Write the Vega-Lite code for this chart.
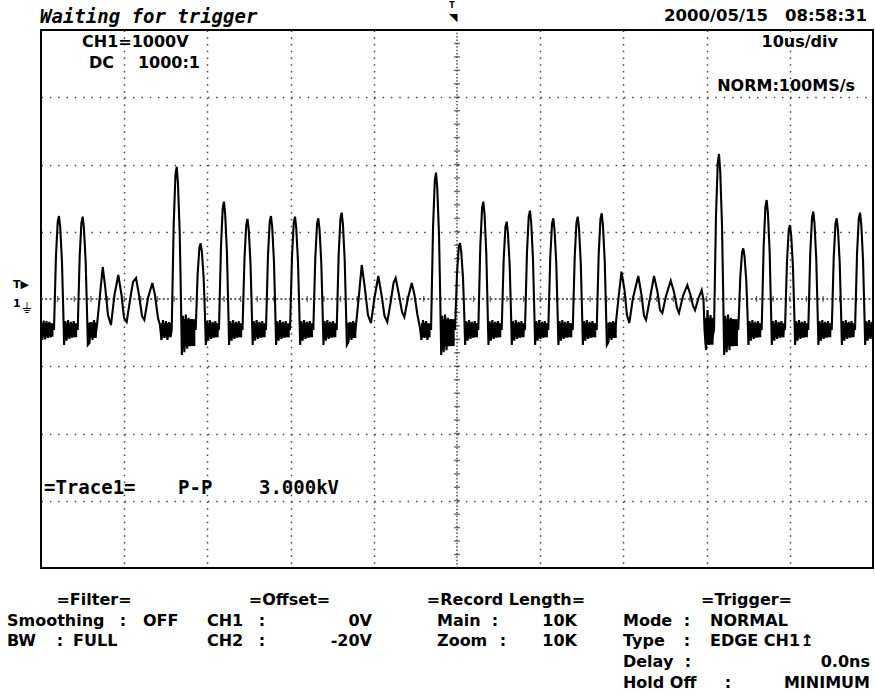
{
"$schema":"https://vega.github.io/schema/vega-lite/v6.json",
"width":832,"height":538,
"autosize":{"type":"none"},
"padding":{"left":41,"top":30,"right":2,"bottom":126},
"background":"white",
"config":{"view":{"stroke":"black","strokeWidth":2},"axis":{"labels":false,"ticks":false,"domain":false,"grid":false}},
"datasets":{
"wave":[
{"t":-50,"v":-400},{"t":-49.85,"v":-610},{"t":-49.68,"v":-320},{"t":-49.51,"v":-600},{"t":-49.34,"v":-330},{"t":-49.17,"v":-580},{"t":-49.0,"v":-340},{"t":-48.83,"v":-570},{"t":-48.66,"v":-380},
{"t":-48.44,"v":-461},{"t":-48.2,"v":641},{"t":-47.99,"v":1149},{"t":-47.84,"v":1234},{"t":-47.69,"v":1065},{"t":-47.48,"v":556},{"t":-47.34,"v":-88},{"t":-47.22,"v":-684},
{"t":-47.09,"v":-330},{"t":-46.92,"v":-620},{"t":-46.75,"v":-315},{"t":-46.58,"v":-595},{"t":-46.41,"v":-340},{"t":-46.24,"v":-575},{"t":-46.07,"v":-330},{"t":-45.9,"v":-560},{"t":-45.73,"v":-380},
{"t":-45.59,"v":-461},{"t":-45.35,"v":634},{"t":-45.14,"v":1140},{"t":-44.99,"v":1224},{"t":-44.84,"v":1056},{"t":-44.63,"v":550},{"t":-44.49,"v":-90},{"t":-44.37,"v":-684},
{"t":-44.17,"v":-654},{"t":-43.99,"v":-342},{"t":-43.81,"v":-610},{"t":-43.63,"v":-312},{"t":-43.45,"v":-550},{"t":-43.27,"v":-387},{"t":-42.97,"v":-15},{"t":-42.58,"v":476},{"t":-42.31,"v":208},{"t":-41.95,"v":-238},{"t":-41.59,"v":-387},{"t":-41.17,"v":59},{"t":-40.71,"v":357},{"t":-40.32,"v":59},{"t":-40.02,"v":-283},{"t":-39.7,"v":-342},{"t":-39.3,"v":-15},{"t":-38.94,"v":253},{"t":-38.58,"v":312},{"t":-38.22,"v":59},{"t":-37.86,"v":-253},{"t":-37.58,"v":-312},{"t":-37.14,"v":15},{"t":-36.62,"v":238},{"t":-36.3,"v":59},{"t":-35.94,"v":-283},{"t":-35.7,"v":-387},{"t":-35.52,"v":-610},{"t":-35.34,"v":-312},{"t":-35.16,"v":-580},{"t":-34.98,"v":-327},{"t":-34.8,"v":-610},{"t":-34.62,"v":-342},{"t":-34.44,"v":-565},
{"t":-34.29,"v":-461},{"t":-34.05,"v":1117},{"t":-33.84,"v":1846},{"t":-33.69,"v":1967},{"t":-33.54,"v":1724},{"t":-33.33,"v":996},{"t":-33.19,"v":73},{"t":-33.07,"v":-833},
{"t":-32.94,"v":-250},{"t":-32.77,"v":-790},{"t":-32.6,"v":-230},{"t":-32.43,"v":-740},{"t":-32.26,"v":-280},{"t":-32.09,"v":-700},{"t":-31.92,"v":-300},{"t":-31.75,"v":-650},{"t":-31.58,"v":-380},
{"t":-31.41,"v":-461},{"t":-31.17,"v":377},{"t":-30.96,"v":764},{"t":-30.81,"v":828},{"t":-30.66,"v":699},{"t":-30.45,"v":312},{"t":-30.31,"v":-177},{"t":-30.19,"v":-684},
{"t":-30.06,"v":-330},{"t":-29.89,"v":-620},{"t":-29.72,"v":-315},{"t":-29.55,"v":-595},{"t":-29.38,"v":-340},{"t":-29.21,"v":-575},{"t":-29.04,"v":-330},{"t":-28.87,"v":-560},{"t":-28.7,"v":-380},
{"t":-28.61,"v":-461},{"t":-28.37,"v":779},{"t":-28.16,"v":1352},{"t":-28.01,"v":1447},{"t":-27.86,"v":1256},{"t":-27.65,"v":684},{"t":-27.51,"v":-41},{"t":-27.39,"v":-684},
{"t":-27.26,"v":-330},{"t":-27.09,"v":-620},{"t":-26.92,"v":-315},{"t":-26.75,"v":-595},{"t":-26.58,"v":-340},{"t":-26.41,"v":-575},{"t":-26.24,"v":-330},{"t":-26.07,"v":-560},{"t":-25.9,"v":-380},
{"t":-25.78,"v":-461},{"t":-25.54,"v":612},{"t":-25.33,"v":1107},{"t":-25.18,"v":1190},{"t":-25.03,"v":1025},{"t":-24.82,"v":530},{"t":-24.68,"v":-98},{"t":-24.56,"v":-684},
{"t":-24.43,"v":-330},{"t":-24.26,"v":-620},{"t":-24.09,"v":-315},{"t":-23.92,"v":-595},{"t":-23.75,"v":-340},{"t":-23.58,"v":-575},{"t":-23.41,"v":-330},{"t":-23.24,"v":-560},{"t":-23.07,"v":-380},
{"t":-22.96,"v":-461},{"t":-22.72,"v":641},{"t":-22.51,"v":1149},{"t":-22.36,"v":1234},{"t":-22.21,"v":1065},{"t":-22.0,"v":556},{"t":-21.86,"v":-88},{"t":-21.74,"v":-684},
{"t":-21.61,"v":-330},{"t":-21.44,"v":-620},{"t":-21.27,"v":-315},{"t":-21.1,"v":-595},{"t":-20.93,"v":-340},{"t":-20.76,"v":-575},{"t":-20.59,"v":-330},{"t":-20.42,"v":-560},{"t":-20.25,"v":-380},
{"t":-20.07,"v":-461},{"t":-19.83,"v":634},{"t":-19.62,"v":1140},{"t":-19.47,"v":1224},{"t":-19.32,"v":1056},{"t":-19.11,"v":550},{"t":-18.97,"v":-90},{"t":-18.85,"v":-684},
{"t":-18.72,"v":-330},{"t":-18.55,"v":-620},{"t":-18.38,"v":-315},{"t":-18.21,"v":-595},{"t":-18.04,"v":-340},{"t":-17.87,"v":-575},{"t":-17.7,"v":-330},{"t":-17.53,"v":-560},{"t":-17.36,"v":-380},
{"t":-17.27,"v":-461},{"t":-17.03,"v":619},{"t":-16.82,"v":1117},{"t":-16.67,"v":1200},{"t":-16.52,"v":1034},{"t":-16.31,"v":536},{"t":-16.17,"v":-96},{"t":-16.05,"v":-684},
{"t":-15.92,"v":-330},{"t":-15.75,"v":-620},{"t":-15.58,"v":-315},{"t":-15.41,"v":-595},{"t":-15.24,"v":-340},{"t":-15.07,"v":-575},{"t":-14.9,"v":-330},{"t":-14.73,"v":-560},{"t":-14.56,"v":-380},
{"t":-14.46,"v":-461},{"t":-14.22,"v":673},{"t":-14.01,"v":1196},{"t":-13.86,"v":1283},{"t":-13.71,"v":1109},{"t":-13.5,"v":585},{"t":-13.36,"v":-77},{"t":-13.24,"v":-684},
{"t":-13.04,"v":-639},{"t":-12.86,"v":-342},{"t":-12.68,"v":-610},{"t":-12.5,"v":-327},{"t":-12.32,"v":-550},{"t":-12.14,"v":-387},{"t":-11.84,"v":-15},{"t":-11.45,"v":506},{"t":-11.12,"v":208},{"t":-10.7,"v":-238},{"t":-10.34,"v":-357},{"t":-9.92,"v":15},{"t":-9.46,"v":342},{"t":-9.07,"v":59},{"t":-8.71,"v":-253},{"t":-8.38,"v":-342},{"t":-7.93,"v":-15},{"t":-7.63,"v":238},{"t":-7.37,"v":312},{"t":-6.97,"v":59},{"t":-6.61,"v":-193},{"t":-6.33,"v":-268},{"t":-5.89,"v":15},{"t":-5.44,"v":238},{"t":-5.11,"v":59},{"t":-4.75,"v":-238},{"t":-4.45,"v":-431},{"t":-4.27,"v":-610},{"t":-4.09,"v":-312},{"t":-3.91,"v":-580},{"t":-3.73,"v":-327},{"t":-3.55,"v":-610},{"t":-3.37,"v":-372},
{"t":-3.12,"v":-461},{"t":-2.88,"v":1059},{"t":-2.67,"v":1761},{"t":-2.52,"v":1878},{"t":-2.37,"v":1644},{"t":-2.16,"v":942},{"t":-2.02,"v":54},{"t":-1.9,"v":-833},
{"t":-1.77,"v":-250},{"t":-1.6,"v":-790},{"t":-1.43,"v":-230},{"t":-1.26,"v":-760},{"t":-1.09,"v":-280},{"t":-0.92,"v":-700},{"t":-0.75,"v":-300},{"t":-0.58,"v":-650},{"t":-0.41,"v":-380},
{"t":-0.24,"v":-461},{"t":0.0,"v":380},{"t":0.21,"v":768},{"t":0.36,"v":833},{"t":0.51,"v":704},{"t":0.72,"v":315},{"t":0.86,"v":-176},{"t":0.98,"v":-684},
{"t":1.11,"v":-330},{"t":1.28,"v":-620},{"t":1.45,"v":-315},{"t":1.62,"v":-595},{"t":1.79,"v":-340},{"t":1.96,"v":-575},{"t":2.13,"v":-330},{"t":2.3,"v":-560},{"t":2.47,"v":-380},
{"t":2.56,"v":-461},{"t":2.8,"v":779},{"t":3.01,"v":1352},{"t":3.16,"v":1447},{"t":3.31,"v":1256},{"t":3.52,"v":684},{"t":3.66,"v":-41},{"t":3.78,"v":-684},
{"t":3.91,"v":-330},{"t":4.08,"v":-620},{"t":4.25,"v":-315},{"t":4.42,"v":-595},{"t":4.59,"v":-340},{"t":4.76,"v":-575},{"t":4.93,"v":-330},{"t":5.1,"v":-560},{"t":5.27,"v":-380},
{"t":5.37,"v":-461},{"t":5.61,"v":586},{"t":5.82,"v":1069},{"t":5.97,"v":1149},{"t":6.12,"v":988},{"t":6.33,"v":505},{"t":6.47,"v":-107},{"t":6.59,"v":-684},
{"t":6.72,"v":-330},{"t":6.89,"v":-620},{"t":7.06,"v":-315},{"t":7.23,"v":-595},{"t":7.4,"v":-340},{"t":7.57,"v":-575},{"t":7.74,"v":-330},{"t":7.91,"v":-560},{"t":8.08,"v":-380},
{"t":8.17,"v":-461},{"t":8.41,"v":692},{"t":8.62,"v":1224},{"t":8.77,"v":1313},{"t":8.92,"v":1136},{"t":9.13,"v":603},{"t":9.27,"v":-71},{"t":9.39,"v":-684},
{"t":9.52,"v":-330},{"t":9.69,"v":-620},{"t":9.86,"v":-315},{"t":10.03,"v":-595},{"t":10.2,"v":-340},{"t":10.37,"v":-575},{"t":10.54,"v":-330},{"t":10.71,"v":-560},{"t":10.88,"v":-380},
{"t":10.97,"v":-461},{"t":11.21,"v":619},{"t":11.42,"v":1117},{"t":11.57,"v":1200},{"t":11.72,"v":1034},{"t":11.93,"v":536},{"t":12.07,"v":-96},{"t":12.19,"v":-684},
{"t":12.32,"v":-330},{"t":12.49,"v":-620},{"t":12.66,"v":-315},{"t":12.83,"v":-595},{"t":13.0,"v":-340},{"t":13.17,"v":-575},{"t":13.34,"v":-330},{"t":13.51,"v":-560},{"t":13.68,"v":-380},
{"t":13.91,"v":-461},{"t":14.15,"v":634},{"t":14.36,"v":1140},{"t":14.51,"v":1224},{"t":14.66,"v":1056},{"t":14.87,"v":550},{"t":15.01,"v":-90},{"t":15.13,"v":-684},
{"t":15.26,"v":-330},{"t":15.43,"v":-620},{"t":15.6,"v":-315},{"t":15.77,"v":-595},{"t":15.94,"v":-340},{"t":16.11,"v":-575},{"t":16.28,"v":-330},{"t":16.45,"v":-560},{"t":16.62,"v":-380},
{"t":16.79,"v":-461},{"t":17.03,"v":667},{"t":17.24,"v":1187},{"t":17.39,"v":1274},{"t":17.54,"v":1101},{"t":17.75,"v":580},{"t":17.89,"v":-79},{"t":18.01,"v":-684},
{"t":18.21,"v":-639},{"t":18.39,"v":-342},{"t":18.57,"v":-610},{"t":18.75,"v":-327},{"t":18.93,"v":-550},{"t":19.11,"v":-342},{"t":19.41,"v":15},{"t":19.77,"v":406},{"t":20.13,"v":134},{"t":20.43,"v":-238},{"t":20.71,"v":-357},{"t":21.15,"v":15},{"t":21.79,"v":342},{"t":22.18,"v":59},{"t":22.48,"v":-253},{"t":22.72,"v":-312},{"t":23.2,"v":15},{"t":23.68,"v":342},{"t":24.1,"v":104},{"t":24.4,"v":-164},{"t":24.68,"v":-208},{"t":25.12,"v":45},{"t":25.69,"v":272},{"t":26.08,"v":104},{"t":26.44,"v":-134},{"t":26.68,"v":-208},{"t":27.16,"v":45},{"t":27.68,"v":208},{"t":28.07,"v":59},{"t":28.37,"v":-104},{"t":28.61,"v":-164},{"t":29.03,"v":15},{"t":29.41,"v":134},{"t":29.63,"v":-15},{"t":29.75,"v":-461},{"t":29.93,"v":-758},{"t":30.11,"v":-164},{"t":30.29,"v":-684},{"t":30.47,"v":-238},{"t":30.65,"v":-610},
{"t":30.89,"v":-461},{"t":31.13,"v":1240},{"t":31.34,"v":2025},{"t":31.49,"v":2156},{"t":31.64,"v":1894},{"t":31.85,"v":1109},{"t":31.99,"v":115},{"t":32.11,"v":-833},
{"t":32.24,"v":-250},{"t":32.41,"v":-790},{"t":32.58,"v":-230},{"t":32.75,"v":-760},{"t":32.92,"v":-280},{"t":33.09,"v":-700},{"t":33.26,"v":-300},{"t":33.43,"v":-650},{"t":33.6,"v":-380},
{"t":33.81,"v":-461},{"t":34.05,"v":329},{"t":34.26,"v":693},{"t":34.41,"v":754},{"t":34.56,"v":633},{"t":34.77,"v":268},{"t":34.91,"v":-194},{"t":35.03,"v":-684},
{"t":35.16,"v":-330},{"t":35.33,"v":-620},{"t":35.5,"v":-315},{"t":35.67,"v":-595},{"t":35.84,"v":-340},{"t":36.01,"v":-575},{"t":36.18,"v":-330},{"t":36.35,"v":-560},{"t":36.52,"v":-380},
{"t":36.62,"v":-461},{"t":36.86,"v":795},{"t":37.07,"v":1375},{"t":37.22,"v":1472},{"t":37.37,"v":1279},{"t":37.58,"v":699},{"t":37.72,"v":-36},{"t":37.84,"v":-684},
{"t":37.97,"v":-330},{"t":38.14,"v":-620},{"t":38.31,"v":-315},{"t":38.48,"v":-595},{"t":38.65,"v":-340},{"t":38.82,"v":-575},{"t":38.99,"v":-330},{"t":39.16,"v":-560},{"t":39.33,"v":-380},
{"t":39.42,"v":-461},{"t":39.66,"v":554},{"t":39.87,"v":1022},{"t":40.02,"v":1100},{"t":40.17,"v":944},{"t":40.38,"v":476},{"t":40.52,"v":-118},{"t":40.64,"v":-684},
{"t":40.77,"v":-330},{"t":40.94,"v":-620},{"t":41.11,"v":-315},{"t":41.28,"v":-595},{"t":41.45,"v":-340},{"t":41.62,"v":-575},{"t":41.79,"v":-330},{"t":41.96,"v":-560},{"t":42.13,"v":-380},
{"t":42.22,"v":-461},{"t":42.46,"v":682},{"t":42.67,"v":1210},{"t":42.82,"v":1298},{"t":42.97,"v":1122},{"t":43.18,"v":594},{"t":43.32,"v":-74},{"t":43.44,"v":-684},
{"t":43.57,"v":-330},{"t":43.74,"v":-620},{"t":43.91,"v":-315},{"t":44.08,"v":-595},{"t":44.25,"v":-340},{"t":44.42,"v":-575},{"t":44.59,"v":-330},{"t":44.76,"v":-560},{"t":44.93,"v":-380},
{"t":45.04,"v":-461},{"t":45.28,"v":619},{"t":45.49,"v":1117},{"t":45.64,"v":1200},{"t":45.79,"v":1034},{"t":46.0,"v":536},{"t":46.14,"v":-96},{"t":46.26,"v":-684},
{"t":46.39,"v":-330},{"t":46.56,"v":-620},{"t":46.73,"v":-315},{"t":46.9,"v":-595},{"t":47.07,"v":-340},{"t":47.24,"v":-575},{"t":47.41,"v":-330},{"t":47.58,"v":-560},{"t":47.75,"v":-380},
{"t":47.84,"v":-461},{"t":48.08,"v":673},{"t":48.29,"v":1196},{"t":48.44,"v":1283},{"t":48.59,"v":1109},{"t":48.8,"v":585},{"t":48.94,"v":-77},{"t":49.06,"v":-684},
{"t":49.19,"v":-330},{"t":49.36,"v":-620},{"t":49.53,"v":-315},{"t":49.7,"v":-595},{"t":49.87,"v":-340},{"t":50,"v":-500}
],
"blob":[
{"t":-50,"t2":-48.5,"v":-360,"v2":-560},
{"t":-47.2,"t2":-45.65,"v":-360,"v2":-570},
{"t":-44.35,"t2":-43.3,"v":-350,"v2":-580},
{"t":-35.6,"t2":-34.35,"v":-360,"v2":-570},
{"t":-33.05,"t2":-31.45,"v":-300,"v2":-700},
{"t":-30.15,"t2":-28.65,"v":-360,"v2":-570},
{"t":-27.35,"t2":-25.82,"v":-360,"v2":-570},
{"t":-24.5,"t2":-23.0,"v":-360,"v2":-570},
{"t":-21.7,"t2":-20.1,"v":-360,"v2":-570},
{"t":-18.8,"t2":-17.3,"v":-360,"v2":-570},
{"t":-16.0,"t2":-14.5,"v":-360,"v2":-570},
{"t":-13.2,"t2":-12.1,"v":-350,"v2":-580},
{"t":-4.35,"t2":-3.18,"v":-360,"v2":-570},
{"t":-1.85,"t2":-0.28,"v":-300,"v2":-700},
{"t":1.02,"t2":2.52,"v":-360,"v2":-570},
{"t":3.82,"t2":5.32,"v":-360,"v2":-570},
{"t":6.63,"t2":8.12,"v":-360,"v2":-570},
{"t":9.43,"t2":10.92,"v":-360,"v2":-570},
{"t":12.23,"t2":13.86,"v":-360,"v2":-570},
{"t":15.17,"t2":16.74,"v":-360,"v2":-570},
{"t":18.05,"t2":19.2,"v":-350,"v2":-580},
{"t":29.78,"t2":30.84,"v":-280,"v2":-680},
{"t":32.15,"t2":33.76,"v":-300,"v2":-700},
{"t":35.07,"t2":36.57,"v":-360,"v2":-570},
{"t":37.88,"t2":39.37,"v":-360,"v2":-570},
{"t":40.68,"t2":42.17,"v":-360,"v2":-570},
{"t":43.48,"t2":44.99,"v":-360,"v2":-570},
{"t":46.3,"t2":47.79,"v":-360,"v2":-570},
{"t":49.1,"t2":50,"v":-360,"v2":-570}
],
"centerH":[{"t":-50,"v":0},{"t":50,"v":0}],
"centerV":[{"t":0,"v":-4000},{"t":0,"v":4000}],
"hTicks":[{"t":-48,"v":0},{"t":-46,"v":0},{"t":-44,"v":0},{"t":-42,"v":0},{"t":-40,"v":0},{"t":-38,"v":0},{"t":-36,"v":0},{"t":-34,"v":0},{"t":-32,"v":0},{"t":-30,"v":0},{"t":-28,"v":0},{"t":-26,"v":0},{"t":-24,"v":0},{"t":-22,"v":0},{"t":-20,"v":0},{"t":-18,"v":0},{"t":-16,"v":0},{"t":-14,"v":0},{"t":-12,"v":0},{"t":-10,"v":0},{"t":-8,"v":0},{"t":-6,"v":0},{"t":-4,"v":0},{"t":-2,"v":0},{"t":2,"v":0},{"t":4,"v":0},{"t":6,"v":0},{"t":8,"v":0},{"t":10,"v":0},{"t":12,"v":0},{"t":14,"v":0},{"t":16,"v":0},{"t":18,"v":0},{"t":20,"v":0},{"t":22,"v":0},{"t":24,"v":0},{"t":26,"v":0},{"t":28,"v":0},{"t":30,"v":0},{"t":32,"v":0},{"t":34,"v":0},{"t":36,"v":0},{"t":38,"v":0},{"t":40,"v":0},{"t":42,"v":0},{"t":44,"v":0},{"t":46,"v":0},{"t":48,"v":0}],
"vTicks":[{"t":0,"v":-3800},{"t":0,"v":-3600},{"t":0,"v":-3400},{"t":0,"v":-3200},{"t":0,"v":-3000},{"t":0,"v":-2800},{"t":0,"v":-2600},{"t":0,"v":-2400},{"t":0,"v":-2200},{"t":0,"v":-2000},{"t":0,"v":-1800},{"t":0,"v":-1600},{"t":0,"v":-1400},{"t":0,"v":-1200},{"t":0,"v":-1000},{"t":0,"v":-800},{"t":0,"v":-600},{"t":0,"v":-400},{"t":0,"v":-200},{"t":0,"v":200},{"t":0,"v":400},{"t":0,"v":600},{"t":0,"v":800},{"t":0,"v":1000},{"t":0,"v":1200},{"t":0,"v":1400},{"t":0,"v":1600},{"t":0,"v":1800},{"t":0,"v":2000},{"t":0,"v":2200},{"t":0,"v":2400},{"t":0,"v":2600},{"t":0,"v":2800},{"t":0,"v":3000},{"t":0,"v":3200},{"t":0,"v":3400},{"t":0,"v":3600},{"t":0,"v":3800}],
"labL":[
{"t":-45.07,"v":3747,"s":"CH1=1000V"},
{"t":-44.23,"v":3435,"s":"DC"},
{"t":-54.09,"v":-4862,"s":"Smoothing"},{"t":-37.74,"v":-4862,"s":"OFF"},
{"t":-54.09,"v":-5160,"s":"BW"},{"t":-46.15,"v":-5160,"s":"FULL"},
{"t":-30.05,"v":-4862,"s":"CH1"},{"t":-30.05,"v":-5160,"s":"CH2"},
{"t":-2.4,"v":-4862,"s":"Main"},{"t":-2.4,"v":-5160,"s":"Zoom"},
{"t":19.95,"v":-4862,"s":"Mode"},{"t":30.41,"v":-4862,"s":"NORMAL"},
{"t":19.95,"v":-5160,"s":"Type"},{"t":30.41,"v":-5160,"s":"EDGE CH1"},
{"t":19.95,"v":-5472,"s":"Delay"},
{"t":19.95,"v":-5784,"s":"Hold Off"}
],
"labR":[
{"t":-30.89,"v":3435,"s":"1000:1"},
{"t":45.79,"v":3747,"s":"10us/div"},
{"t":47.84,"v":3093,"s":"NORM:100MS/s"},
{"t":-10.22,"v":-4862,"s":"0V"},{"t":-10.22,"v":-5160,"s":"-20V"},
{"t":14.42,"v":-4862,"s":"10K"},{"t":14.42,"v":-5160,"s":"10K"},
{"t":49.64,"v":-5472,"s":"0.0ns"},
{"t":49.64,"v":-5784,"s":"MINIMUM"}
],
"labC":[
{"t":-43.63,"v":-4550,"s":"=Filter="},
{"t":-20.13,"v":-4550,"s":"=Offset="},
{"t":5.89,"v":-4550,"s":"=Record Length="},
{"t":34.8,"v":-4550,"s":"=Trigger="},
{"t":-40.14,"v":-4862,"s":":"},{"t":-47.72,"v":-5160,"s":":"},
{"t":-23.44,"v":-4862,"s":":"},{"t":-23.44,"v":-5160,"s":":"},
{"t":4.57,"v":-4862,"s":":"},{"t":5.53,"v":-5160,"s":":"},
{"t":27.64,"v":-4862,"s":":"},{"t":27.64,"v":-5160,"s":":"},
{"t":27.76,"v":-5472,"s":":"},{"t":32.57,"v":-5784,"s":":"},
{"t":42.07,"v":-5160,"s":"↥"}
],
"dateL":[{"t":31.13,"v":4141,"s":"2000/05/15"}],
"dateR":[{"t":49.28,"v":4141,"s":"08:58:31"}],
"title":[{"t":-50.12,"v":4104,"s":"Waiting for trigger"}],
"trace":[{"t":-49.64,"v":-2900,"s":"=Trace1="},{"t":-33.53,"v":-2900,"s":"P-P"},{"t":-23.8,"v":-2900,"s":"3.000kV"}],
"markTop":[{"t":-0.6,"v":4327,"s":"T"}],
"markTri":[{"t":-0.45,"v":4134,"s":"◥"}],
"markLeft":[{"t":-53.37,"v":164,"s":"T▶"},{"t":-53.37,"v":-119,"s":"1"}],
"markGnd":[{"t":-52.28,"v":-208,"s":"⏚"}]
},
"encoding":{
"x":{"field":"t","type":"quantitative","title":null,"scale":{"domain":[-50,50],"nice":false,"zero":false},
"axis":{"values":[-40,-30,-20,-10,10,20,30,40],"grid":true,"gridDash":[1.5,5.23],"gridColor":"#444","gridWidth":1.5,"labels":false,"ticks":false,"domain":false,"title":null}},
"y":{"field":"v","type":"quantitative","title":null,"scale":{"domain":[-4000,4000],"nice":false,"zero":false},
"axis":{"values":[-3000,-2000,-1000,1000,2000,3000],"grid":true,"gridDash":[1.5,6.82],"gridColor":"#444","gridWidth":1.5,"labels":false,"ticks":false,"domain":false,"title":null}}
},
"layer":[
{"data":{"name":"centerH"},"mark":{"type":"line","color":"#333","strokeWidth":1.3,"strokeDash":[2,2.2]}},
{"data":{"name":"centerV"},"mark":{"type":"line","color":"#333","strokeWidth":1.3,"strokeDash":[1.5,1.9]}},
{"data":{"name":"hTicks"},"mark":{"type":"tick","orient":"vertical","size":6,"thickness":1.4,"color":"#333"}},
{"data":{"name":"vTicks"},"mark":{"type":"tick","orient":"horizontal","size":6,"thickness":1.4,"color":"#333"}},
{"data":{"name":"blob"},"mark":{"type":"rect","color":"black"},"encoding":{"x2":{"field":"t2"},"y2":{"field":"v2"}}},
{"data":{"name":"wave"},"mark":{"type":"line","color":"black","strokeWidth":2.1,"strokeJoin":"miter"}},
{"data":{"name":"labL"},"mark":{"type":"text","align":"left","baseline":"alphabetic","font":"DejaVu Sans","fontWeight":"bold","fontSize":16,"color":"black"},"encoding":{"text":{"field":"s"}}},
{"data":{"name":"labR"},"mark":{"type":"text","align":"right","baseline":"alphabetic","font":"DejaVu Sans","fontWeight":"bold","fontSize":16,"color":"black"},"encoding":{"text":{"field":"s"}}},
{"data":{"name":"labC"},"mark":{"type":"text","align":"center","baseline":"alphabetic","font":"DejaVu Sans","fontWeight":"bold","fontSize":16,"color":"black"},"encoding":{"text":{"field":"s"}}},
{"data":{"name":"dateL"},"mark":{"type":"text","align":"center","baseline":"alphabetic","font":"DejaVu Sans","fontWeight":"bold","fontSize":16.5,"color":"black"},"encoding":{"text":{"field":"s"}}},
{"data":{"name":"dateR"},"mark":{"type":"text","align":"right","baseline":"alphabetic","font":"DejaVu Sans","fontWeight":"bold","fontSize":16.5,"color":"black"},"encoding":{"text":{"field":"s"}}},
{"data":{"name":"title"},"mark":{"type":"text","align":"left","baseline":"alphabetic","font":"DejaVu Sans Mono","fontWeight":"bold","fontStyle":"italic","fontSize":19,"color":"black"},"encoding":{"text":{"field":"s"}}},
{"data":{"name":"trace"},"mark":{"type":"text","align":"left","baseline":"alphabetic","font":"DejaVu Sans Mono","fontWeight":"bold","fontSize":19,"color":"black"},"encoding":{"text":{"field":"s"}}},
{"data":{"name":"markTop"},"mark":{"type":"text","align":"center","baseline":"alphabetic","font":"DejaVu Sans","fontWeight":"bold","fontSize":8,"color":"black"},"encoding":{"text":{"field":"s"}}},
{"data":{"name":"markTri"},"mark":{"type":"text","align":"center","baseline":"alphabetic","font":"DejaVu Sans","fontSize":11,"color":"black"},"encoding":{"text":{"field":"s"}}},
{"data":{"name":"markLeft"},"mark":{"type":"text","align":"left","baseline":"alphabetic","font":"DejaVu Sans","fontWeight":"bold","fontSize":11,"color":"black"},"encoding":{"text":{"field":"s"}}},
{"data":{"name":"markGnd"},"mark":{"type":"text","align":"left","baseline":"alphabetic","font":"DejaVu Sans","fontSize":14,"color":"black"},"encoding":{"text":{"field":"s"}}}
]
}
